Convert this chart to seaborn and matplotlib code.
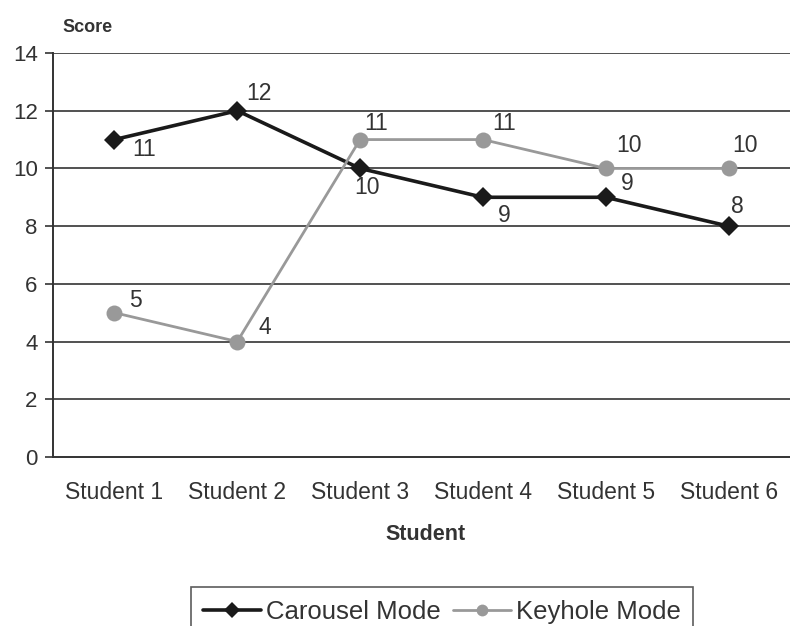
import matplotlib
matplotlib.use("Agg")
import matplotlib.pyplot as plt
import seaborn as sns
import pandas as pd
from matplotlib.lines import Line2D

students = ["Student 1", "Student 2", "Student 3", "Student 4", "Student 5", "Student 6"]
carousel = [11, 12, 10, 9, 9, 8]
keyhole = [5, 4, 11, 11, 10, 10]
series_names = ["Carousel Mode", "Keyhole Mode"]
y_ticks = [0, 2, 4, 6, 8, 10, 12, 14]

# label offsets in pixels (dx, dy) – styling only
carousel_off = [(30, -10), (22, 17), (7, -19), (21, -18), (22, 14), (9, 20)]
keyhole_off = [(21, 12), (28, 14), (16, 16), (21, 16), (23, 23), (16, 23)]

sns.set_theme(style="white")
plt.rcParams["font.family"] = ["Liberation Sans", "DejaVu Sans"]

df = pd.DataFrame({
    "Student": students * 2,
    "Score": carousel + keyhole,
    "Mode": [series_names[0]] * len(students) + [series_names[1]] * len(students),
})

fig = plt.figure(figsize=(7.9, 6.26), dpi=100)
ax = fig.add_axes([53 / 790, 1 - 457 / 626, 1 - 53 / 790, (457 - 53) / 626])

palette = {series_names[0]: "#1a1a1a", series_names[1]: "#999999"}
sns.lineplot(data=df, x="Student", y="Score", hue="Mode", style="Mode",
             markers={series_names[0]: "D", series_names[1]: "o"}, dashes=False,
             palette=palette, ax=ax, legend=False, markeredgewidth=0, zorder=3)
for line, lw, ms in zip(ax.lines, [2.6, 2.0], [10, 11.5]):
    line.set_linewidth(lw)
    line.set_markersize(ms)

TC = "#333333"
ax.set_xlim(-0.5, 5.5)
ax.set_ylim(0, 14)
ax.set_yticks(y_ticks)
ax.set_yticklabels([str(v) for v in y_ticks])
ax.set_xticks(range(len(students)))
ax.set_xticklabels(students)
ax.set_xticks([i - 0.5 for i in range(len(students) + 1)], minor=True)
ax.tick_params(axis="x", which="major", length=0, pad=17, labelsize=16.5, labelcolor=TC)
ax.tick_params(axis="x", which="minor", length=6, width=1.2, color=TC, direction="out")
ax.tick_params(axis="y", which="major", length=6, width=1.2, color=TC, direction="out",
               left=True, pad=5, labelsize=16, labelcolor=TC)

for v in y_ticks[1:]:
    ax.axhline(v, color=TC, lw=1.2, zorder=1)
for s in ["top", "right"]:
    ax.spines[s].set_visible(False)
for s in ["left", "bottom"]:
    ax.spines[s].set_color(TC)
    ax.spines[s].set_linewidth(1.4)

for vals, offs in [(carousel, carousel_off), (keyhole, keyhole_off)]:
    for i, (v, (dx, dy)) in enumerate(zip(vals, offs)):
        ax.annotate(str(v), (i, v), xytext=(dx, dy), textcoords="offset pixels",
                    ha="center", va="center", fontsize=16.5, color=TC, zorder=4)

ax.set_xlabel("")
ax.set_ylabel("")
fig.text(426 / 790, 1 - 535 / 626, "Student", fontsize=15.5, fontweight="bold",
         color=TC, ha="center", va="center")
fig.text(62 / 790, 1 - 27 / 626, "Score", fontsize=13, fontweight="bold",
         color=TC, ha="left", va="center")

handles = [Line2D([], [], color="#1a1a1a", lw=2.6, marker="D", ms=8, mew=0),
           Line2D([], [], color="#999999", lw=2.0, marker="o", ms=8.5, mew=0)]
leg = fig.legend(handles, series_names, loc="upper center", bbox_to_anchor=(442 / 790, 1 - 587 / 626),
                 ncol=2, frameon=True, fancybox=False, fontsize=18.5, handlelength=2.25,
                 handletextpad=0.2, columnspacing=0.45, borderpad=0.5, borderaxespad=0)
leg.get_frame().set_edgecolor(TC)
leg.get_frame().set_linewidth(1.2)
for t in leg.get_texts():
    t.set_color(TC)

fig.savefig("out.png", dpi=100)
